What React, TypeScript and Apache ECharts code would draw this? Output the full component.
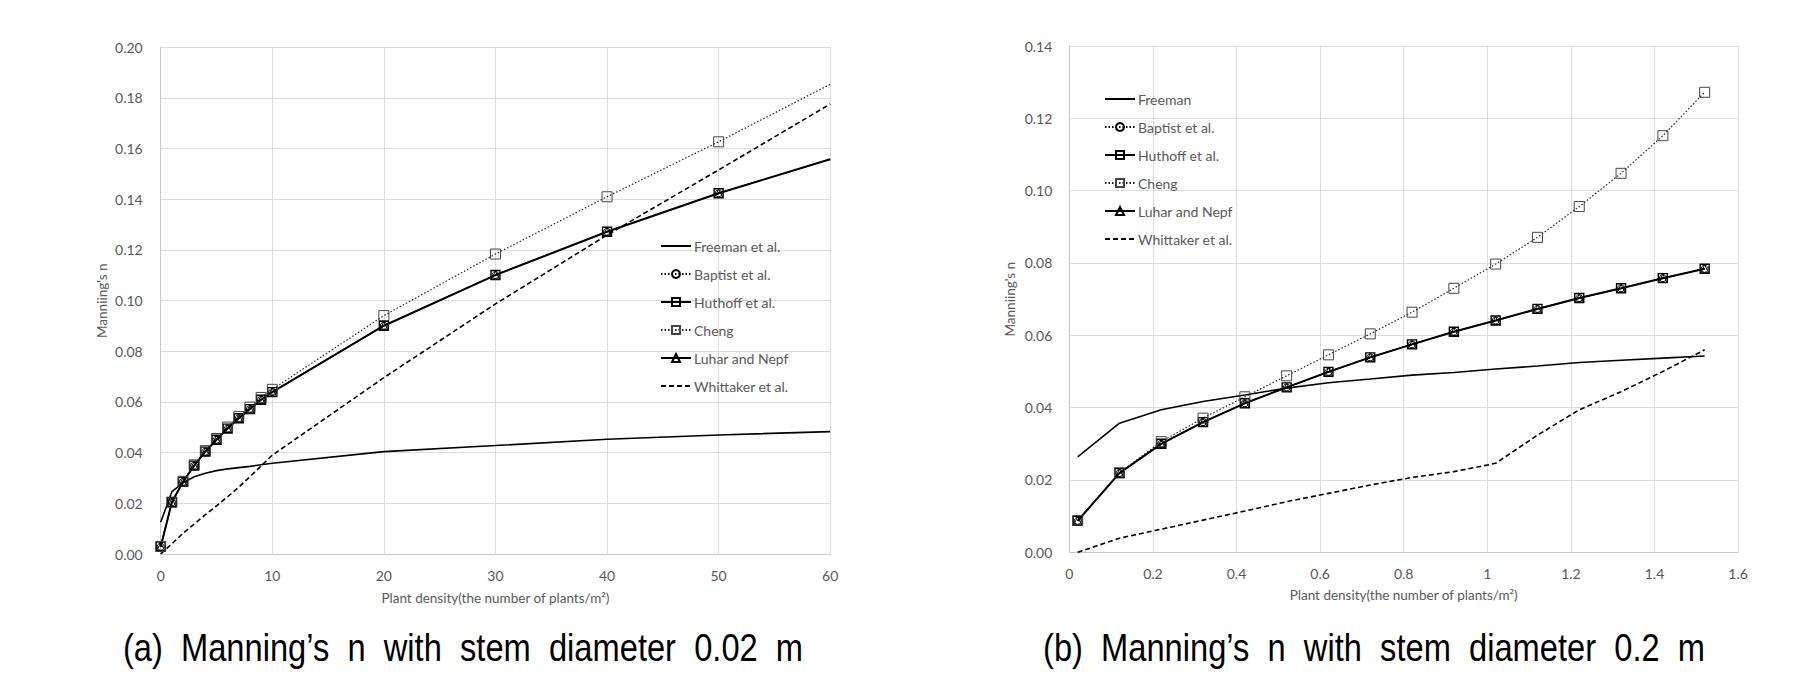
import React, { useEffect, useRef } from 'react';
import * as echarts from 'echarts';

// ---------- data: (a) stem diameter 0.02 m ----------
const densityA = [0, 1, 2, 3, 4, 5, 6, 7, 8, 9, 10, 20, 30, 40, 50, 60];
const freemanA = [0.0125, 0.0246, 0.0281, 0.0305, 0.0319, 0.0329, 0.0336, 0.0341, 0.0346, 0.0352, 0.0358, 0.0404, 0.0428, 0.0453, 0.047, 0.0483];
const baptistA = [0.0029, 0.0204, 0.0285, 0.0349, 0.0404, 0.0451, 0.0495, 0.0536, 0.0572, 0.0609, 0.0639, 0.0901, 0.1101, 0.1272, 0.1424, 0.1558];
const huthoffA = [0.0029, 0.0204, 0.0285, 0.0349, 0.0404, 0.0451, 0.0495, 0.0536, 0.0572, 0.0609, 0.0639, 0.0901, 0.1101, 0.1272, 0.1424, 0.1558];
const chengA = [0.003, 0.0205, 0.0287, 0.0352, 0.0408, 0.0456, 0.0501, 0.0543, 0.058, 0.0618, 0.065, 0.0941, 0.1184, 0.141, 0.1627, 0.1854];
const luharA = [0.0029, 0.0204, 0.0285, 0.0349, 0.0404, 0.0451, 0.0495, 0.0536, 0.0572, 0.0609, 0.0639, 0.0901, 0.1101, 0.1272, 0.1424, 0.1558];
const whittakerA = [0, 0.004, 0.0082, 0.0118, 0.0155, 0.019, 0.0226, 0.0264, 0.0305, 0.0348, 0.039, 0.0696, 0.0987, 0.1259, 0.1516, 0.1776];

// ---------- data: (b) stem diameter 0.2 m ----------
const densityB = [0.02, 0.12, 0.22, 0.32, 0.42, 0.52, 0.62, 0.72, 0.82, 0.92, 1.02, 1.12, 1.22, 1.32, 1.42, 1.52];
const freemanB = [0.0264, 0.0357, 0.0394, 0.0417, 0.0435, 0.0454, 0.0469, 0.0479, 0.049, 0.0497, 0.0507, 0.0515, 0.0525, 0.0531, 0.0537, 0.0543];
const baptistB = [0.0087, 0.0219, 0.03, 0.036, 0.0412, 0.0456, 0.0499, 0.0539, 0.0575, 0.061, 0.0641, 0.0673, 0.0703, 0.073, 0.0758, 0.0784];
const huthoffB = [0.0087, 0.0219, 0.03, 0.036, 0.0412, 0.0456, 0.0499, 0.0539, 0.0575, 0.061, 0.0641, 0.0673, 0.0703, 0.073, 0.0758, 0.0784];
const chengB = [0.0088, 0.022, 0.0306, 0.0371, 0.043, 0.0488, 0.0546, 0.0604, 0.0664, 0.073, 0.0797, 0.0871, 0.0956, 0.1048, 0.1152, 0.1272];
const luharB = [0.0087, 0.0219, 0.03, 0.036, 0.0412, 0.0456, 0.0499, 0.0539, 0.0575, 0.061, 0.0641, 0.0673, 0.0703, 0.073, 0.0758, 0.0784];
const whittakerB = [0, 0.0039, 0.0064, 0.0089, 0.0114, 0.014, 0.0163, 0.0186, 0.0207, 0.0223, 0.0246, 0.0324, 0.0394, 0.0444, 0.05, 0.056];

const legendA = ['Freeman et al.', 'Baptist et al.', 'Huthoff et al.', 'Cheng', 'Luhar and Nepf', 'Whittaker et al.'];
const legendB = ['Freeman', 'Baptist et al.', 'Huthoff et al.', 'Cheng', 'Luhar and Nepf', 'Whittaker et al.'];
const noMarkerNames = ['Freeman et al.', 'Freeman', 'Whittaker et al.'];

const xTitle = 'Plant density(the number of plants/m\u00b2)';
const yTitle = "Manniing's n";
const captionA = '(a) Manning\u2019s n with stem diameter 0.02 m';
const captionB = '(b) Manning\u2019s n with stem diameter 0.2 m';

const W = 1805;
const H = 695;
const FONT = 'Lato';
const GRAY = '#595959';

const wide = (s: string) => s.split(' ').join(' \u00a0');

type Style = {
  symbol: string;
  symbolSize: number;
  lineWidth: number;
  lineType: any;
  lineColor: string;
  border: string;
  borderWidth: number;
};

const styles: Record<string, Style> = {
  freeman: { symbol: 'none', symbolSize: 0, lineWidth: 1.6, lineType: 'solid', lineColor: '#000', border: '#000', borderWidth: 1 },
  baptist: { symbol: 'circle', symbolSize: 7, lineWidth: 1, lineType: [1.5, 2], lineColor: '#000', border: '#000', borderWidth: 1 },
  huthoff: { symbol: 'rect', symbolSize: 9, lineWidth: 2, lineType: 'solid', lineColor: '#000', border: '#000', borderWidth: 1.4 },
  cheng: { symbol: 'rect', symbolSize: 10, lineWidth: 1.2, lineType: [1.5, 2], lineColor: '#222', border: '#444', borderWidth: 1 },
  luhar: { symbol: 'triangle', symbolSize: 8, lineWidth: 1.2, lineType: 'solid', lineColor: '#000', border: '#000', borderWidth: 1 },
  whittaker: { symbol: 'none', symbolSize: 0, lineWidth: 1.6, lineType: [5, 3], lineColor: '#000', border: '#000', borderWidth: 1 },
};

function mkSeries(name: string, key: string, xs: number[], ys: number[], gi: number, hideAt: number | null) {
  const st = styles[key];
  return {
    type: 'line',
    name,
    xAxisIndex: gi,
    yAxisIndex: gi,
    smooth: false,
    symbol: st.symbol,
    symbolSize: st.symbolSize,
    showSymbol: st.symbol !== 'none',
    data: xs.map((x, i) => (hideAt !== null && x >= hideAt ? { value: [x, ys[i]], symbol: 'none' } : [x, ys[i]])),
    lineStyle: { color: st.lineColor, width: st.lineWidth, type: st.lineType },
    itemStyle: { color: 'rgba(255,255,255,0)', borderColor: st.border, borderWidth: st.borderWidth },
    emphasis: { disabled: true },
    z: 3,
  };
}

function axisCommon(margin: number) {
  return {
    type: 'value',
    axisLine: { show: true, lineStyle: { color: '#c8c8c8', width: 1 } },
    axisTick: { show: false },
    splitLine: { show: true, lineStyle: { color: '#dcdcdc', width: 1 } },
    axisLabel: { color: GRAY, fontSize: 14, fontFamily: FONT, margin },
    nameLocation: 'middle',
    nameTextStyle: { color: GRAY, fontSize: 13.5, fontFamily: FONT },
  };
}

function legendOpt(names: string[], left: number, top: number) {
  return {
    orient: 'vertical',
    left,
    top,
    data: names.map((n) =>
      noMarkerNames.includes(n)
        ? { name: n, itemStyle: { color: 'rgba(0,0,0,0)', borderColor: 'rgba(0,0,0,0)', borderWidth: 0, opacity: 0 } }
        : { name: n }
    ),
    itemWidth: 30,
    itemHeight: 10,
    itemGap: 14,
    padding: 0,
    textStyle: { color: GRAY, fontSize: 14, fontFamily: FONT, lineHeight: 14, padding: [0, 0, 0, -2] },
    selectedMode: false,
  };
}

function caption(text: string, x: number) {
  return {
    type: 'text',
    x,
    y: 648,
    scaleX: 0.86,
    style: {
      text: wide(text),
      fontSize: 38,
      fontFamily: '"Liberation Sans", Arial, sans-serif',
      fill: '#000',
      align: 'center',
      verticalAlign: 'middle',
      textAlign: 'center',
      textVerticalAlign: 'middle',
    },
  };
}

function buildOption() {
  const yLabelA = { ...axisCommon(18).axisLabel, formatter: (v: number) => v.toFixed(2) };
  const yLabelB = { ...axisCommon(17).axisLabel, formatter: (v: number) => v.toFixed(2) };
  return {
    animation: false,
    backgroundColor: '#fff',
    textStyle: { fontFamily: FONT },
    grid: [
      { left: 160.7, top: 47.3, width: 669.5, height: 506.7, containLabel: false },
      { left: 1069.3, top: 46, width: 668.8, height: 506.3, containLabel: false },
    ],
    xAxis: [
      { ...axisCommon(14), gridIndex: 0, min: 0, max: 60, interval: 10, name: xTitle, nameGap: 37 },
      { ...axisCommon(14), gridIndex: 1, min: 0, max: 1.6, interval: 0.2, name: xTitle, nameGap: 36 },
    ],
    yAxis: [
      { ...axisCommon(18), gridIndex: 0, min: 0, max: 0.2, interval: 0.02, name: yTitle, nameGap: 52, axisLabel: yLabelA },
      { ...axisCommon(17), gridIndex: 1, min: 0, max: 0.14, interval: 0.02, name: yTitle, nameGap: 52, axisLabel: yLabelB },
    ],
    legend: [legendOpt(legendA, 660, 239), legendOpt(legendB, 1104, 92)],
    series: [
      mkSeries('Freeman et al.', 'freeman', densityA, freemanA, 0, 60),
      mkSeries('Baptist et al.', 'baptist', densityA, baptistA, 0, 60),
      mkSeries('Huthoff et al.', 'huthoff', densityA, huthoffA, 0, 60),
      mkSeries('Cheng', 'cheng', densityA, chengA, 0, 60),
      mkSeries('Luhar and Nepf', 'luhar', densityA, luharA, 0, 60),
      mkSeries('Whittaker et al.', 'whittaker', densityA, whittakerA, 0, 60),
      mkSeries('Freeman', 'freeman', densityB, freemanB, 1, null),
      mkSeries('Baptist et al.', 'baptist', densityB, baptistB, 1, null),
      mkSeries('Huthoff et al.', 'huthoff', densityB, huthoffB, 1, null),
      mkSeries('Cheng', 'cheng', densityB, chengB, 1, null),
      mkSeries('Luhar and Nepf', 'luhar', densityB, luharB, 1, null),
      mkSeries('Whittaker et al.', 'whittaker', densityB, whittakerB, 1, null),
    ],
    graphic: [caption(captionA, 463), caption(captionB, 1374)],
  };
}

export default function App() {
  const ref = useRef<HTMLDivElement>(null);
  useEffect(() => {
    if (!ref.current) return;
    const chart = echarts.init(ref.current, null, { renderer: 'svg', width: W, height: H });
    chart.setOption(buildOption() as any);
    return () => chart.dispose();
  }, []);
  return (
    <div
      ref={ref}
      style={{ position: 'absolute', left: 0, top: 0, width: W, height: H, background: '#fff' }}
    />
  );
}
